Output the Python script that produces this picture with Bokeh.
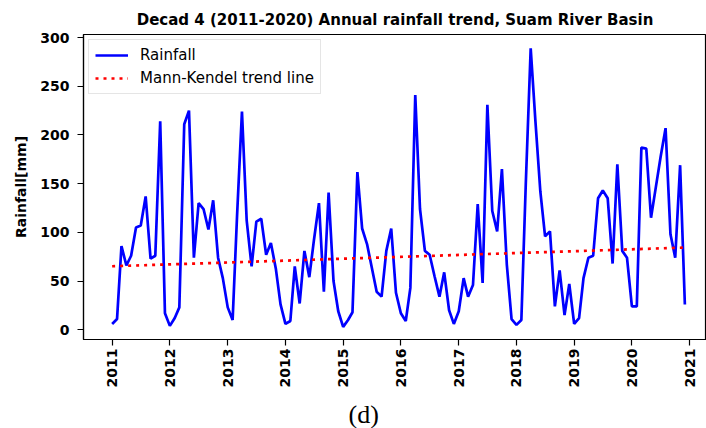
import math
import pandas as pd
from bokeh.plotting import figure
from bokeh.models import (Range1d, FixedTicker, DatetimeTickFormatter, Title, Legend, LegendItem)
from bokeh.embed import file_html
from bokeh.resources import INLINE

# Monthly rainfall [mm], Suam River Basin, 2011-2020
rain_2011 = [6, 11, 86, 66, 76, 105, 107, 137, 73, 76, 214, 17]
rain_2012 = [4, 12, 23, 211, 225, 74, 130, 124, 103, 133, 74, 53]
rain_2013 = [23, 10, 117, 224, 112, 65, 111, 114, 77, 89, 63, 26]
rain_2014 = [6, 9, 65, 27, 81, 54, 93, 130, 39, 141, 50, 19]
rain_2015 = [3, 10, 18, 162, 104, 88, 64, 39, 34, 81, 104, 38]
rain_2016 = [17, 9, 43, 241, 124, 81, 77, 55, 34, 59, 20, 6]
rain_2017 = [19, 53, 34, 46, 129, 48, 231, 122, 101, 165, 67, 11]
rain_2018 = [5, 10, 150, 289, 214, 142, 96, 101, 24, 61, 15, 47]
rain_2019 = [6, 12, 53, 74, 76, 135, 143, 135, 68, 170, 81, 74]
rain_2020 = [24, 24, 187, 186, 115, 147, 178, 207, 98, 74, 169, 26]

years = [2011, 2012, 2013, 2014, 2015, 2016, 2017, 2018, 2019, 2020]
tick_years = [2011, 2012, 2013, 2014, 2015, 2016, 2017, 2018, 2019, 2020, 2021]
y_ticks = [0, 50, 100, 150, 200, 250, 300]

# Mann-Kendall (Sen's slope) trend line end values
trend_start = 65.2
trend_end = 84.4

rain = (rain_2011 + rain_2012 + rain_2013 + rain_2014 + rain_2015 +
        rain_2016 + rain_2017 + rain_2018 + rain_2019 + rain_2020)
dates = pd.date_range(f"{years[0]}-01-01", periods=len(rain), freq="MS")

t0, t1 = dates[0], dates[-1]
pad = (t1 - t0) * 0.05
x_start = t0 - pad
x_end = x_start + (t1 - t0 + 2 * pad) * (623 / 630)

FONT = "DejaVu Sans"

p = figure(width=706, height=428, x_axis_type="datetime",
           output_backend="svg", toolbar_location=None,
           x_range=Range1d(x_start, x_end), y_range=Range1d(-10, 303.2),
           min_border_left=83, min_border_right=0, min_border_top=34,
           min_border_bottom=89)
p.background_fill_color = "white"
p.border_fill_color = "white"
p.outline_line_color = "black"
p.outline_line_width = 1.2
p.xgrid.visible = False
p.ygrid.visible = False

r1 = p.line(dates, rain, line_color="#0000ff", line_width=2.7)
r2 = p.line([t0, t1], [trend_start, trend_end], line_color="#ff0000",
            line_width=2.7, line_dash="3 5")

legend = Legend(items=[LegendItem(label="Rainfall", renderers=[r1]),
                       LegendItem(label="Mann-Kendel trend line", renderers=[r2])],
                location="top_left", margin=5, padding=6, spacing=5,
                glyph_width=33, glyph_height=18, label_height=18,
                label_standoff=12, label_text_font=FONT,
                label_text_font_size="15px", label_text_color="black",
                border_line_color="#cccccc", border_line_width=1,
                background_fill_alpha=0.85)
p.add_layout(legend)

xa = p.xaxis[0]
xa.ticker = FixedTicker(ticks=[pd.Timestamp(f"{y}-01-01").value / 1e6 for y in tick_years])
xa.formatter = DatetimeTickFormatter(years="%Y", months="%Y", days="%Y", hours="%Y",
                                     minutes="%Y", seconds="%Y", milliseconds="%Y",
                                     microseconds="%Y", minsec="%Y", hourmin="%Y")
xa.major_label_orientation = math.pi / 2
ya = p.yaxis[0]
ya.ticker = FixedTicker(ticks=y_ticks)
ya.axis_label = "Rainfall[mm]"
ya.axis_label_text_font = FONT
ya.axis_label_text_font_style = "bold"
ya.axis_label_text_font_size = "14px"
ya.axis_label_text_color = "black"
ya.axis_label_standoff = 8

for ax in (xa, ya):
    ax.axis_line_color = "black"
    ax.axis_line_width = 1.2
    ax.major_tick_line_color = "black"
    ax.major_tick_line_width = 1.2
    ax.major_tick_out = 6
    ax.major_tick_in = 0
    ax.minor_tick_line_color = None
    ax.major_label_text_font = FONT
    ax.major_label_text_font_style = "bold"
    ax.major_label_text_color = "black"
xa.major_label_text_font_size = "14px"
ya.major_label_text_font_size = "14px"
xa.major_label_standoff = 3
ya.major_label_standoff = 8

p.add_layout(Title(text="Decad 4 (2011-2020) Annual rainfall trend, Suam River Basin",
                   align="center", text_font=FONT, text_font_style="bold",
                   text_font_size="15px", text_color="black", standoff=12), "above")

# small spacer between the date axis and the panel caption
p.add_layout(Title(text=" ", text_font_size="4px", standoff=0), "below")
p.add_layout(Title(text="(d)", align="left", offset=265,
                   text_font="Liberation Serif", text_font_style="normal",
                   text_font_size="26px", text_color="black", standoff=0), "below")

open("out.html", "w").write(file_html(p, INLINE))
